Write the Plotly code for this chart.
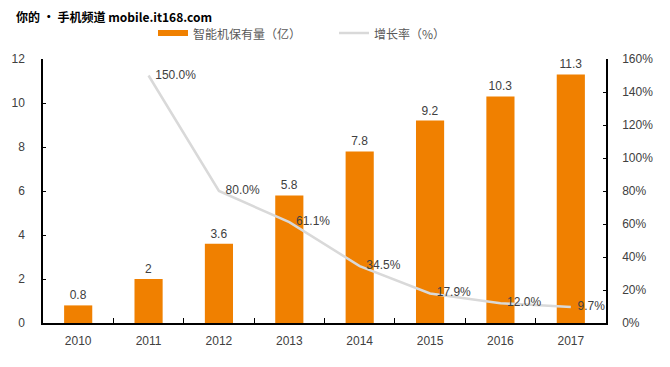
import plotly.graph_objects as go

years = ["2010", "2011", "2012", "2013", "2014", "2015", "2016", "2017"]
stock = [0.8, 2, 3.6, 5.8, 7.8, 9.2, 10.3, 11.3]
stock_labels = ["0.8", "2", "3.6", "5.8", "7.8", "9.2", "10.3", "11.3"]
growth_years = ["2011", "2012", "2013", "2014", "2015", "2016", "2017"]
growth = [150.0, 80.0, 61.1, 34.5, 17.9, 12.0, 9.7]
growth_labels = ["150.0%", "80.0%", "61.1%", "34.5%", "17.9%", "12.0%", "9.7%"]
legend_names = ["智能机保有量（亿）", "增长率（%）"]

font = "Arial, Liberation Sans, sans-serif"
cjk = "Noto Sans CJK SC, sans-serif"
txt = "#404040"
orange = "#F08000"
gray = "#D9D9D9"

# page has 8px body margin; plot area in screen px: x 43..606, y 59..323
OFF = 8
PL, PR, PT, PB = 43, 606, 59, 323


def px(x):
    return (x - PL) / (PR - PL)


def py(y):
    return (PB - y) / (PB - PT)


fig = go.Figure()
fig.add_trace(go.Bar(
    x=years, y=stock, name=legend_names[0],
    marker=dict(color=orange, line=dict(width=0)), width=0.4,
    text=stock_labels, textposition="outside",
    textfont=dict(size=12, color=txt, family=font), cliponaxis=False,
))
fig.add_trace(go.Scatter(
    x=growth_years, y=growth, name=legend_names[1], yaxis="y2",
    mode="lines+text", line=dict(color=gray, width=2.5),
    text=["  " + t for t in growth_labels], textposition="middle right",
    textfont=dict(size=12, color=txt, family=font), cliponaxis=False,
))

fig.update_layout(
    width=670 - OFF, height=367 - OFF,
    margin=dict(l=PL - OFF, r=670 - PR, t=PT - OFF, b=367 - PB, autoexpand=False),
    paper_bgcolor="white", plot_bgcolor="white",
    font=dict(family=font, color=txt, size=12),
    showlegend=False,
    xaxis=dict(type="category", showline=True, linecolor="black", linewidth=1.5,
               ticks="inside", tickson="boundaries", ticklen=5, tickcolor="black",
               showgrid=False, range=[-0.5, 7.5], tickfont=dict(size=12, color=txt),
               ticklabelstandoff=6, automargin=False),
    yaxis=dict(range=[0, 12], dtick=2, showline=True, linecolor="black", linewidth=1.5,
               ticks="inside", ticklen=3, tickcolor="black", showgrid=False,
               zeroline=False, tickfont=dict(size=12, color=txt), ticklabelstandoff=14,
               automargin=False),
    yaxis2=dict(range=[0, 160], dtick=20, overlaying="y", side="right", showline=True,
                linecolor="black", linewidth=1.5, ticks="inside", ticklen=3,
                tickcolor="black", showgrid=False, zeroline=False, ticksuffix="%",
                tickfont=dict(size=12, color=txt), ticklabelstandoff=12, automargin=False),
)

# manual legend
fig.add_shape(type="rect", xref="paper", yref="paper",
              x0=px(158), x1=px(188), y0=py(30), y1=py(36),
              fillcolor=orange, line=dict(width=0))
fig.add_annotation(x=px(191), y=py(33), xref="paper", yref="paper",
                   xanchor="left", yanchor="middle", text=legend_names[0], showarrow=False,
                   font=dict(size=12, color="#595959", family=cjk))
fig.add_shape(type="line", xref="paper", yref="paper",
              x0=px(339), x1=px(369), y0=py(33), y1=py(33),
              line=dict(color=gray, width=2.5))
fig.add_annotation(x=px(372), y=py(33), xref="paper", yref="paper",
                   xanchor="left", yanchor="middle", text=legend_names[1], showarrow=False,
                   font=dict(size=12, color="#595959", family=cjk))

fig.add_annotation(
    x=px(14), y=py(16), xref="paper", yref="paper",
    xanchor="left", yanchor="middle",
    text="<b>你的 • 手机频道 mobile.it168.com</b>", showarrow=False,
    font=dict(size=12, color="black", family=cjk),
)
fig.write_html("out.html")
